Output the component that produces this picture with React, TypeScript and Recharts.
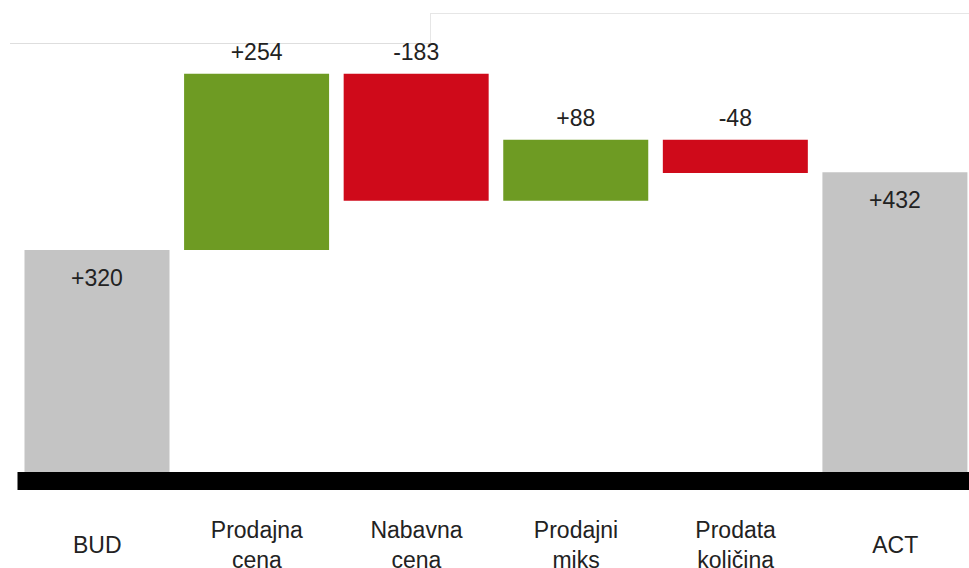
import React from "react";
import {
  BarChart,
  Bar,
  Cell,
  XAxis,
  YAxis,
  ReferenceArea,
  LabelList,
} from "recharts";

// Waterfall: BUD -> price / cost / mix / volume effects -> ACT
const categories = [
  "BUD",
  "Prodajna\ncena",
  "Nabavna\ncena",
  "Prodajni\nmiks",
  "Prodata\nkoličina",
  "ACT",
];
const values = [320, 254, -183, 88, -48, 432];
const isTotal = [true, false, false, false, false, true];

const GREEN = "#6E9B23";
const RED = "#CF0A1A";
const GRAY = "#C4C4C4";
const TEXT = "#222222";
const FONT = "'Liberation Sans', Arial, Helvetica, sans-serif";

// running start/end for every step
let running = 0;
const chartData = categories.map((name, i) => {
  const v = values[i];
  let start: number;
  let end: number;
  if (isTotal[i]) {
    start = 0;
    end = v;
    running = v;
  } else {
    start = running;
    end = running + v;
    running = end;
  }
  return {
    name,
    value: v,
    total: isTotal[i],
    range: [Math.min(start, end), Math.max(start, end)],
  };
});

const fmt = (v: number) => (v > 0 ? `+${v}` : `${v}`);

// eslint-disable-next-line @typescript-eslint/no-explicit-any
const renderLabel = (props: any) => {
  const { x, y, width, index } = props;
  const d = chartData[index];
  const cx = x + width / 2;
  // totals get the label inside the bar, deltas above it
  const cy = d.total ? y + 28 : y - 22;
  return (
    <text
      x={cx}
      y={cy}
      textAnchor="middle"
      dominantBaseline="central"
      fill={TEXT}
      fontSize={23}
      fontFamily={FONT}
    >
      {fmt(d.value)}
    </text>
  );
};

// eslint-disable-next-line @typescript-eslint/no-explicit-any
const CategoryTick = (props: any) => {
  const { x, y, payload } = props;
  const lines = String(payload.value).split("\n");
  const lineH = 30;
  const first = y + 55 - ((lines.length - 1) * lineH) / 2;
  return (
    <g>
      {lines.map((line, i) => (
        <text
          key={i}
          x={x}
          y={first + i * lineH}
          textAnchor="middle"
          dominantBaseline="central"
          fill={TEXT}
          fontSize={23}
          fontFamily={FONT}
        >
          {line}
        </text>
      ))}
    </g>
  );
};

export default function App() {
  return (
    <div
      style={{
        position: "absolute",
        left: 0,
        top: 0,
        width: 969,
        height: 568,
        overflow: "hidden",
        background: "#fff",
      }}
    >
      {/* thin frame lines at the top */}
      <div style={{ position: "absolute", left: 10, top: 43, width: 421, height: 1, background: "#dedede" }} />
      <div style={{ position: "absolute", left: 430, top: 13, width: 1, height: 31, background: "#e6e6e6" }} />
      <div style={{ position: "absolute", left: 430, top: 13, width: 539, height: 1, background: "#e6e6e6" }} />

      <BarChart
        width={980}
        height={568}
        data={chartData}
        margin={{ top: 21, right: 5, bottom: 0, left: 17.5 }}
        barSize={145}
      >
        <XAxis
          dataKey="name"
          axisLine={false}
          tickLine={false}
          tickSize={0}
          tickMargin={0}
          height={78}
          interval={0}
          tick={<CategoryTick />}
        />
        <YAxis hide domain={[-26, 650]} allowDataOverflow />
        {/* heavy baseline under the bars */}
        <ReferenceArea y1={-26} y2={0} fill="#000" fillOpacity={1} stroke="none" />
        <Bar dataKey="range" isAnimationActive={false}>
          {chartData.map((d, i) => (
            <Cell
              key={`cell-${i}`}
              fill={d.total ? GRAY : d.value >= 0 ? GREEN : RED}
            />
          ))}
          <LabelList dataKey="range" content={renderLabel} />
        </Bar>
      </BarChart>
    </div>
  );
}
